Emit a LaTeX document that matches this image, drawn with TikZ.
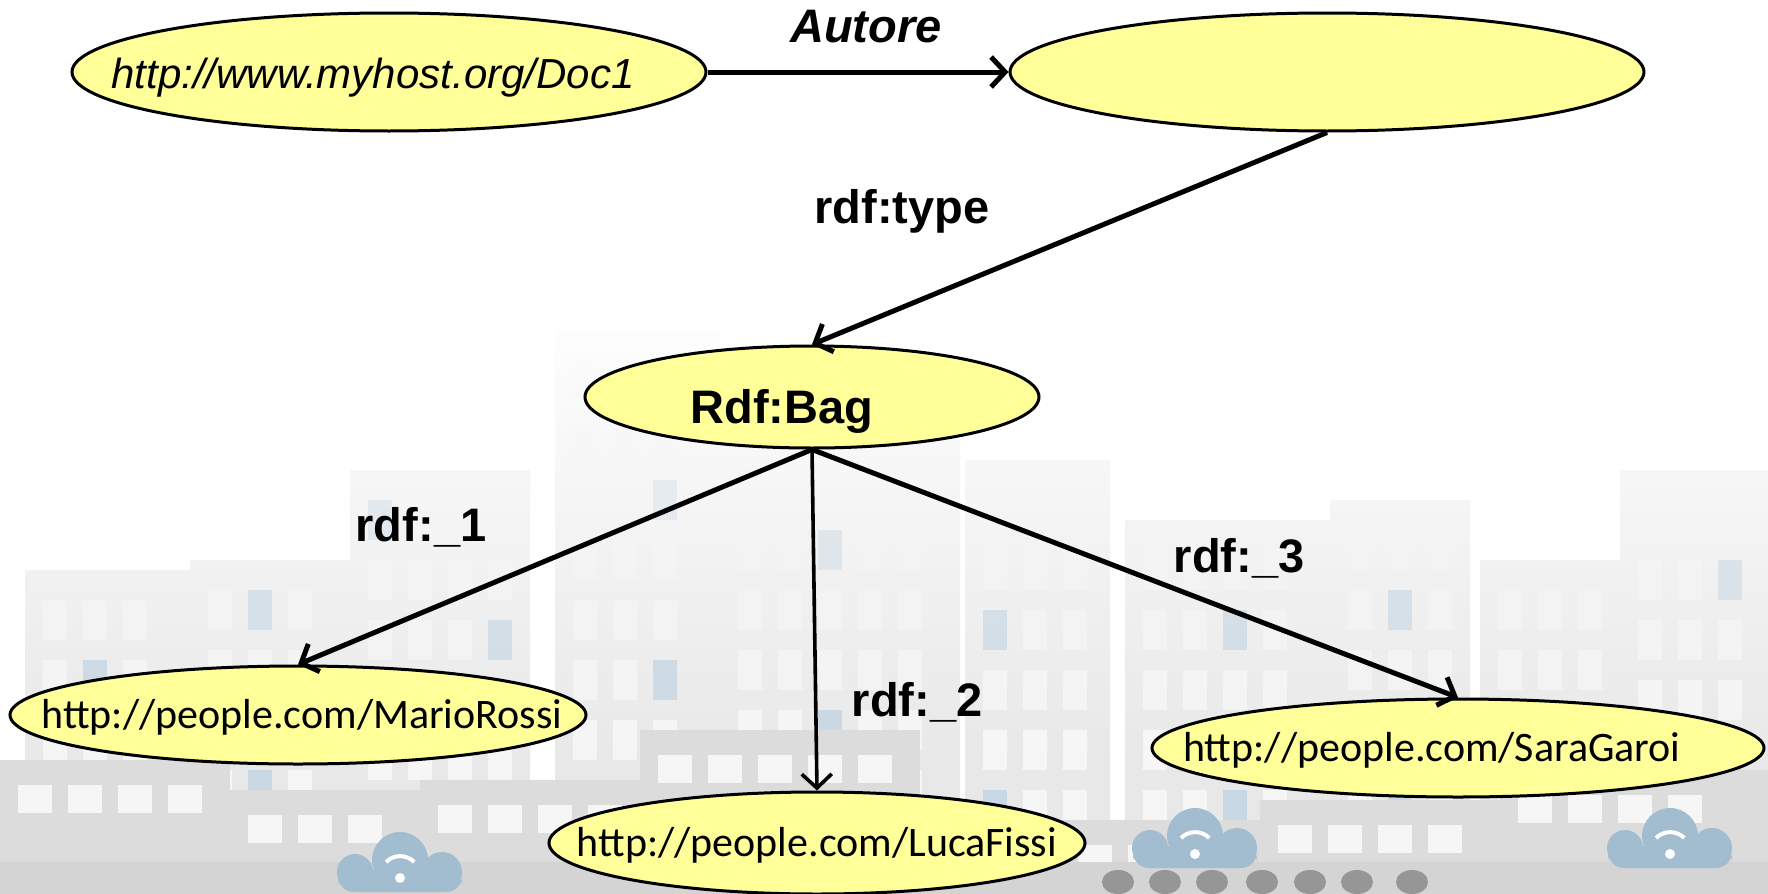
\documentclass[tikz,border=0pt]{standalone}
\usepackage{fontspec}
\setmainfont{Liberation Sans}
\newfontfamily\calibri{Carlito}
\usepackage{tikz}
\usetikzlibrary{arrows.meta,shapes.geometric}

\definecolor{nodeyellow}{RGB}{255,255,153}
\definecolor{bldback}{RGB}{232,232,233}
\definecolor{bldfront}{RGB}{220,220,221}
\definecolor{street}{RGB}{212,212,213}
\definecolor{winlight}{RGB}{246,246,246}
\definecolor{winblue}{RGB}{200,216,228}
\definecolor{cloudblue}{RGB}{162,188,208}
\definecolor{dotgray}{RGB}{150,150,150}

\newcommand{\docfont}{\fontsize{21pt}{25pt}\selectfont\itshape}
\newcommand{\urifont}{\fontsize{21pt}{25pt}\selectfont\calibri}
\newcommand{\arcfont}{\fontsize{23.5pt}{28pt}\selectfont\bfseries}

% x1/x2/top of the houses behind
\newcommand{\backrow}{25/190/570, 190/350/560, 350/530/470, 555/720/330,
  720/960/440, 965/1110/460, 1125/1330/520, 1330/1470/500, 1480/1620/560,
  1620/1768/470}

\begin{document}
\begin{tikzpicture}[x=0.5pt,y=-0.5pt,>={Straight Barb[length=7pt,width=15pt]},
  main node/.style={ellipse,draw,fill=nodeyellow,line width=1.5pt,inner sep=0pt,
    minimum width=317pt,minimum height=59pt},
  bag node/.style={main node,minimum width=227pt,minimum height=51pt},
  leaf node/.style={main node,minimum height=49pt},
  arc label/.style={font=\arcfont,inner sep=0pt}]

  \useasboundingbox (0,0) rectangle (1768,894);
  \fill[white] (0,0) rectangle (1768,894);

  % city in the background, fading out towards the top
  \begin{scope}
    \clip foreach \xa/\xb/\yt in \backrow {(\xa,\yt) rectangle (\xb,894)};
    \shade[top color=white,bottom color=bldback] (0,300) rectangle (1768,760);
    \fill[bldback] (0,759) rectangle (1768,894);
  \end{scope}
  \foreach \xa/\xb/\yt in \backrow {
    \pgfmathtruncatemacro\ncol{max(1,(\xb-\xa-20)/40)}
    \pgfmathtruncatemacro\nrow{max(1,(860-\yt-30)/60)}
    \foreach \i in {1,...,\ncol}
      \foreach \j in {1,...,\nrow}{
        \pgfmathsetmacro\op{max(0,min(1,(\yt+\j*60-380)/380))}
        \pgfmathtruncatemacro\isblue{mod(\i*7+\j*3+\xa,9)==0}
        \ifnum\isblue=1 \def\wincol{winblue}\else\def\wincol{winlight}\fi
        \fill[\wincol,fill opacity=\op] (\xa+\i*40-22,\yt+\j*60-30) rectangle ++(24,40);
      }
  }
  \foreach \xa/\xb/\yt in {0/230/760, 230/420/790, 420/640/780, 640/920/730,
      1060/1260/820, 1260/1500/800, 1500/1768/770}{
    \fill[bldfront] (\xa,\yt) rectangle (\xb,894);
    \pgfmathtruncatemacro\ncol{max(1,(\xb-\xa-20)/50)}
    \foreach \i in {1,...,\ncol}
      \fill[winlight] (\xa+\i*50-32,\yt+25) rectangle ++(34,28);
  }
  \fill[street] (0,862) rectangle (1768,894);
  \foreach \cx/\cy in {400/872, 1195/848, 1670/848}{
    \fill[cloudblue] (\cx-45,\cy) circle (18);
    \fill[cloudblue] (\cx,\cy-12) circle (28);
    \fill[cloudblue] (\cx+42,\cy) circle (20);
    \fill[cloudblue,rounded corners=8] (\cx-62,\cy-2) rectangle (\cx+62,\cy+20);
    \draw[white,line width=2pt] (\cx-14,\cy-10) arc (225:315:20);
    \fill[white] (\cx,\cy+6) circle (5);
  }
  \foreach \x in {1118,1165,1212,1262,1310,1357,1412}
    \fill[dotgray] (\x,882) ellipse (16 and 12);

  % nodes
  \node[main node,label={[font=\docfont,xshift=-8pt,yshift=-3pt]center:{http://www.myhost.org/Doc1}}] (doc) at (389,72) {};
  \node[main node] (blank) at (1327,72) {};
  \node[bag node,label={[font=\arcfont,xshift=-15pt,yshift=-7pt]center:{Rdf:Bag}}] (bag) at (812,397) {};
  \node[leaf node,minimum width=288pt,label={[font=\urifont,xshift=2pt,yshift=-1pt]center:{http://people.com/MarioRossi}}] (mario) at (298,715) {};
  \node[leaf node,minimum width=268pt,minimum height=51pt,label={[font=\urifont,yshift=-1pt]center:{http://people.com/LucaFissi}}] (luca) at (817,843) {};
  \node[leaf node,minimum width=306pt,label={[font=\urifont,xshift=-13pt,yshift=-1pt]center:{http://people.com/SaraGaroi}}] (sara) at (1458,748) {};

  % arc labels
  \node[arc label,font=\arcfont\itshape] (autore) at (866,27) {Autore};
  \node[arc label] (type) at (902,211) {rdf:type};
  \node[arc label] (one) at (421,527) {rdf:\_1};
  \node[arc label] (two) at (917,702) {rdf:\_2};
  \node[arc label] (three) at (1239,558) {rdf:\_3};

  \path[->,line width=2.5pt]
    (doc) edge (blank)
    (blank.south) edge (bag.north)
    (bag.south) edge (mario.north)
    (bag.south) edge (sara.north);
  \path[->,line width=1.8pt]
    (bag.south) edge (luca.north);
\end{tikzpicture}
\end{document}
